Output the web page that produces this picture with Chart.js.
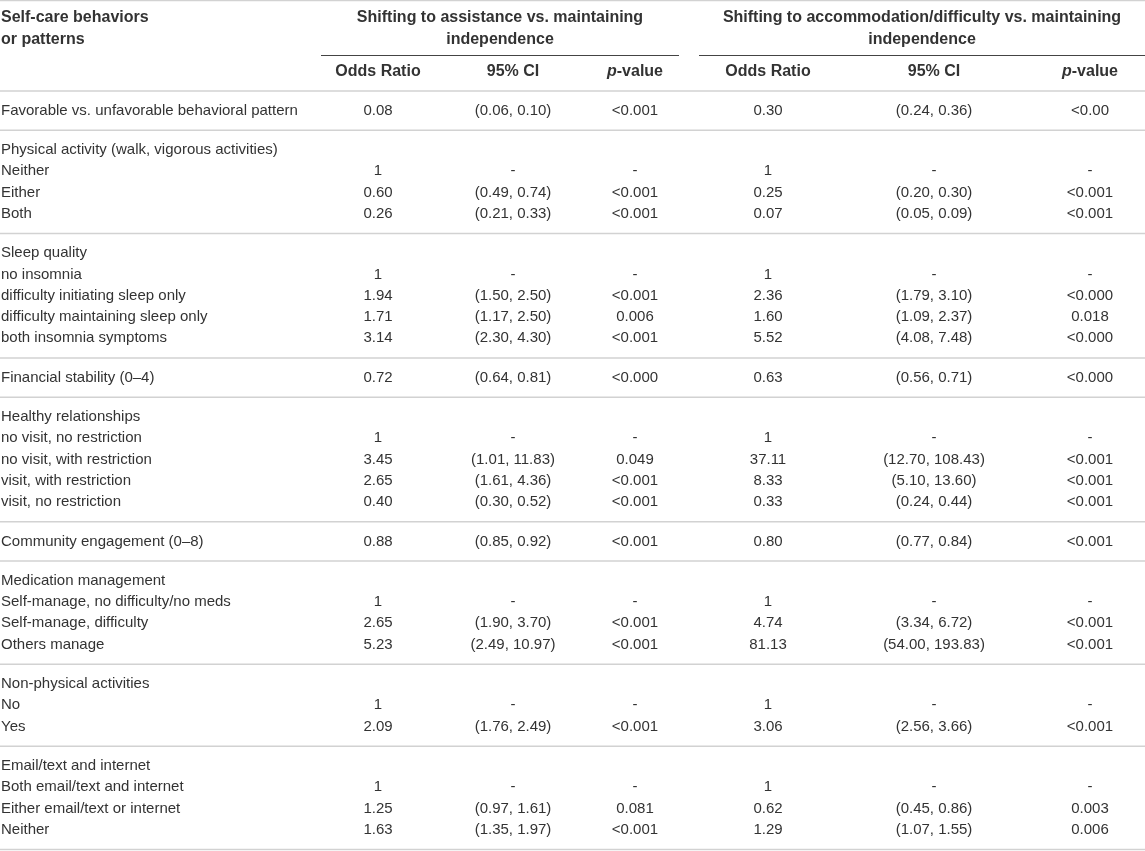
<!DOCTYPE html>
<html lang="en">
<head>
<meta charset="UTF-8">
<title>Self-care behaviors and odds of shifting</title>
<script src="https://cdn.jsdelivr.net/npm/chart.js"></script>
<style>
  body { margin: 0; background: #fff; }
  #wrap { width: 1145px; height: 851px; position: relative; }
</style>
</head>
<body>
<div id="wrap"><canvas id="oddsTable"></canvas></div>
<script>
const sectionSizes = [1, 4, 5, 1, 5, 1, 4, 3, 4];

const rowLabels = [
  'Favorable vs. unfavorable behavioral pattern',
  'Physical activity (walk, vigorous activities)', 'Neither', 'Either', 'Both',
  'Sleep quality', 'no insomnia', 'difficulty initiating sleep only', 'difficulty maintaining sleep only', 'both insomnia symptoms',
  'Financial stability (0–4)',
  'Healthy relationships', 'no visit, no restriction', 'no visit, with restriction', 'visit, with restriction', 'visit, no restriction',
  'Community engagement (0–8)',
  'Medication management', 'Self-manage, no difficulty/no meds', 'Self-manage, difficulty', 'Others manage',
  'Non-physical activities', 'No', 'Yes',
  'Email/text and internet', 'Both email/text and internet', 'Either email/text or internet', 'Neither'
];

const orAssist = ['0.08', '', '1', '0.60', '0.26', '', '1', '1.94', '1.71', '3.14', '0.72',
  '', '1', '3.45', '2.65', '0.40', '0.88', '', '1', '2.65', '5.23', '', '1', '2.09', '', '1', '1.25', '1.63'];
const ciAssist = ['(0.06, 0.10)', '', '-', '(0.49, 0.74)', '(0.21, 0.33)', '', '-', '(1.50, 2.50)', '(1.17, 2.50)', '(2.30, 4.30)', '(0.64, 0.81)',
  '', '-', '(1.01, 11.83)', '(1.61, 4.36)', '(0.30, 0.52)', '(0.85, 0.92)', '', '-', '(1.90, 3.70)', '(2.49, 10.97)',
  '', '-', '(1.76, 2.49)', '', '-', '(0.97, 1.61)', '(1.35, 1.97)'];
const pAssist = ['<0.001', '', '-', '<0.001', '<0.001', '', '-', '<0.001', '0.006', '<0.001', '<0.000',
  '', '-', '0.049', '<0.001', '<0.001', '<0.001', '', '-', '<0.001', '<0.001', '', '-', '<0.001', '', '-', '0.081', '<0.001'];

const orAccom = ['0.30', '', '1', '0.25', '0.07', '', '1', '2.36', '1.60', '5.52', '0.63',
  '', '1', '37.11', '8.33', '0.33', '0.80', '', '1', '4.74', '81.13', '', '1', '3.06', '', '1', '0.62', '1.29'];
const ciAccom = ['(0.24, 0.36)', '', '-', '(0.20, 0.30)', '(0.05, 0.09)', '', '-', '(1.79, 3.10)', '(1.09, 2.37)', '(4.08, 7.48)', '(0.56, 0.71)',
  '', '-', '(12.70, 108.43)', '(5.10, 13.60)', '(0.24, 0.44)', '(0.77, 0.84)', '', '-', '(3.34, 6.72)', '(54.00, 193.83)',
  '', '-', '(2.56, 3.66)', '', '-', '(0.45, 0.86)', '(1.07, 1.55)'];
const pAccom = ['<0.00', '', '-', '<0.001', '<0.001', '', '-', '<0.000', '0.018', '<0.000', '<0.000',
  '', '-', '<0.001', '<0.001', '<0.001', '<0.001', '', '-', '<0.001', '<0.001', '', '-', '<0.001', '', '-', '0.003', '0.006'];

const stubHeader = ['Self-care behaviors', 'or patterns'];
const groupTitles = [
  ['Shifting to assistance vs. maintaining', 'independence'],
  ['Shifting to accommodation/difficulty vs. maintaining', 'independence']
];
const colTitles = ['Odds Ratio', '95% CI', 'p-value'];

// ---- layout ----
const W = 1145, H = 851;
const ROW_H = 21.3;                 // px per row unit on the y scale
const PAD = 9 / ROW_H;              // padding above/below each block
const HEAD = 91 / ROW_H;            // bottom rule of the header
const LABEL_X = 1;
const COL_X = [378, 513, 635, 768, 934, 1090];
const GROUP_SPAN = [[321, 679], [699, 1145]];
const HEAD_Y = [18 / ROW_H, 40 / ROW_H];
const UNDER_Y = 55.5 / ROW_H;
const SUB_Y = 72 / ROW_H;

const REG = '15px "Liberation Sans", Arial, sans-serif';
const BOLD = 'bold 16px "Liberation Sans", Arial, sans-serif';
const BOLD_IT = 'italic bold 16px "Liberation Sans", Arial, sans-serif';
const TXT = '#333';
const RULE = '#d2d2d2';

const rowY = [];
const sepY = [HEAD];
let cur = HEAD;
sectionSizes.forEach(n => {
  cur += PAD;
  for (let i = 0; i < n; i++) { rowY.push(cur + 0.5); cur += 1; }
  cur += PAD;
  sepY.push(cur);
});

function textSet(strings, x, ys, font, align) {
  return {
    type: 'scatter',
    data: strings.map((s, i) => ({ x: x, y: ys[i], t: s })),
    pointRadius: 0, pointHoverRadius: 0,
    cellFont: font, cellAlign: align, clip: false
  };
}
function ruleSet(x0, x1, y, color, width) {
  return {
    type: 'scatter', showLine: true,
    data: [{ x: x0, y: y }, { x: x1, y: y }],
    borderColor: color, borderWidth: width,
    pointRadius: 0, pointHoverRadius: 0, clip: false
  };
}

const datasets = [];
// rules
datasets.push(ruleSet(0, W, 0.6 / ROW_H, RULE, 1.5));
GROUP_SPAN.forEach(sp => datasets.push(ruleSet(sp[0], sp[1], UNDER_Y, '#444', 1)));
sepY.forEach(y => datasets.push(ruleSet(0, W, y, RULE, 1.5)));

// header text
datasets.push(textSet(stubHeader, LABEL_X, HEAD_Y, BOLD, 'left'));
GROUP_SPAN.forEach((sp, g) => datasets.push(textSet(groupTitles[g], (sp[0] + sp[1]) / 2, HEAD_Y, BOLD, 'center')));
COL_X.forEach((x, c) => {
  const title = colTitles[c % 3];
  const t = title === 'p-value' ? [[ 'p', BOLD_IT ], [ '-value', BOLD ]] : title;
  datasets.push(textSet([t], x, [SUB_Y], BOLD, 'center'));
});

// body text
datasets.push(textSet(rowLabels, LABEL_X, rowY, REG, 'left'));
[orAssist, ciAssist, pAssist, orAccom, ciAccom, pAccom].forEach((col, c) => {
  datasets.push(textSet(col, COL_X[c], rowY, REG, 'center'));
});

const cellText = {
  id: 'cellText',
  afterDatasetsDraw(chart) {
    const ctx = chart.ctx;
    chart.data.datasets.forEach((ds, di) => {
      if (!ds.cellFont) return;
      const meta = chart.getDatasetMeta(di);
      ctx.save();
      ctx.fillStyle = TXT;
      ctx.textBaseline = 'middle';
      meta.data.forEach((pt, i) => {
        const t = ds.data[i].t;
        if (!t) return;
        if (Array.isArray(t)) {
          // mixed-font label, centred as a whole
          let total = 0;
          t.forEach(seg => { ctx.font = seg[1]; total += ctx.measureText(seg[0]).width; });
          let x = pt.x - total / 2;
          ctx.textAlign = 'left';
          t.forEach(seg => { ctx.font = seg[1]; ctx.fillText(seg[0], x, pt.y); x += ctx.measureText(seg[0]).width; });
        } else {
          ctx.font = ds.cellFont;
          ctx.textAlign = ds.cellAlign;
          ctx.fillText(t, pt.x, pt.y);
        }
      });
      ctx.restore();
    });
  }
};

new Chart(document.getElementById('oddsTable'), {
  type: 'scatter',
  data: { datasets: datasets },
  options: {
    responsive: true,
    maintainAspectRatio: false,
    animation: false,
    events: [],
    layout: { padding: 0 },
    plugins: { legend: { display: false }, tooltip: { enabled: false } },
    scales: {
      x: { type: 'linear', min: 0, max: W, display: false },
      y: { type: 'linear', min: 0, max: H / ROW_H, reverse: true, display: false }
    }
  },
  plugins: [cellText]
});
</script>
</body>
</html>
